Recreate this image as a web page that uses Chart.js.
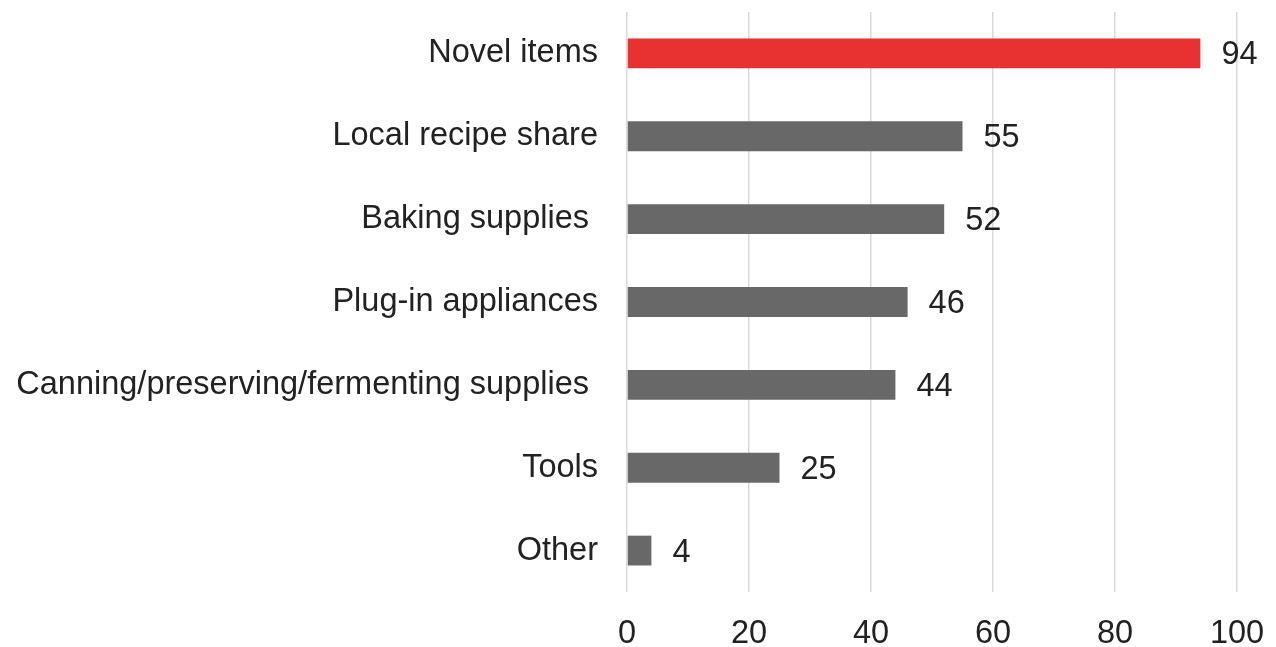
<!DOCTYPE html>
<html>
<head>
<meta charset="utf-8">
<title>Kitchen purchases</title>
<script src="https://cdn.jsdelivr.net/npm/chart.js@4/dist/chart.umd.min.js"></script>
<style>
  html, body { margin: 0; padding: 0; background: #fff; }
  #wrap { width: 1276px; height: 647px; position: relative; }
</style>
</head>
<body>
<div id="wrap"><canvas id="bars"></canvas></div>
<script>
// categories, top to bottom (trailing spaces kept as in the labels)
const categories = [
  "Novel items",
  "Local recipe share",
  "Baking supplies ",
  "Plug-in appliances",
  "Canning/preserving/fermenting supplies ",
  "Tools",
  "Other",
];
const values = [94, 55, 52, 46, 44, 25, 4];
const barColors = ["#e83232", "#686868", "#686868", "#686868", "#686868", "#686868", "#686868"];
const xTicks = [0, 20, 40, 60, 80, 100];

const textColor = "#222222";
const fontFamily = "'Liberation Sans', Arial, sans-serif";
const fontSize = 32.5;

// value labels placed just past the end of each bar
const valueLabels = {
  id: "valueLabels",
  afterDatasetsDraw(chart) {
    const ctx = chart.ctx;
    const meta = chart.getDatasetMeta(0);
    ctx.save();
    ctx.font = fontSize + "px " + fontFamily;
    ctx.fillStyle = textColor;
    ctx.textAlign = "left";
    ctx.textBaseline = "middle";
    meta.data.forEach((bar, i) => {
      ctx.fillText(String(values[i]), bar.x + 21, bar.y + 2);
    });
    ctx.restore();
  },
};

new Chart(document.getElementById("bars"), {
  type: "bar",
  data: {
    labels: categories,
    datasets: [{
      data: values,
      backgroundColor: barColors,
      borderWidth: 0,
      categoryPercentage: 1,
      barPercentage: 0.36,
    }],
  },
  options: {
    indexAxis: "y",
    responsive: true,
    maintainAspectRatio: false,
    animation: false,
    layout: { padding: { top: 12, right: 39, bottom: 0, left: 0 } },
    plugins: {
      legend: { display: false },
      tooltip: { enabled: false },
    },
    scales: {
      x: {
        min: 0,
        max: 100,
        afterBuildTicks(axis) {
          axis.ticks = xTicks.map((v) => ({ value: v }));
        },
        grid: { color: "#d9d9d9", lineWidth: 1.5, drawTicks: false },
        border: { display: false },
        ticks: {
          color: textColor,
          font: { family: fontFamily, size: fontSize, lineHeight: 1 },
          padding: 26,
        },
        // fixed strip for the tick labels under the plot
        afterFit(scale) {
          scale.height = 55;
          scale.paddingLeft = 0;
          scale.paddingRight = 0;
        },
      },
      y: {
        grid: { display: false, drawTicks: false },
        border: { display: false },
        ticks: {
          color: textColor,
          font: { family: fontFamily, size: fontSize },
          padding: 29,
        },
        // wide label column; the tick padding should only push labels sideways
        afterFit(scale) {
          scale.width = 627;
          scale.paddingTop = 0;
          scale.paddingBottom = 0;
        },
      },
    },
  },
  plugins: [valueLabels],
});
</script>
</body>
</html>
